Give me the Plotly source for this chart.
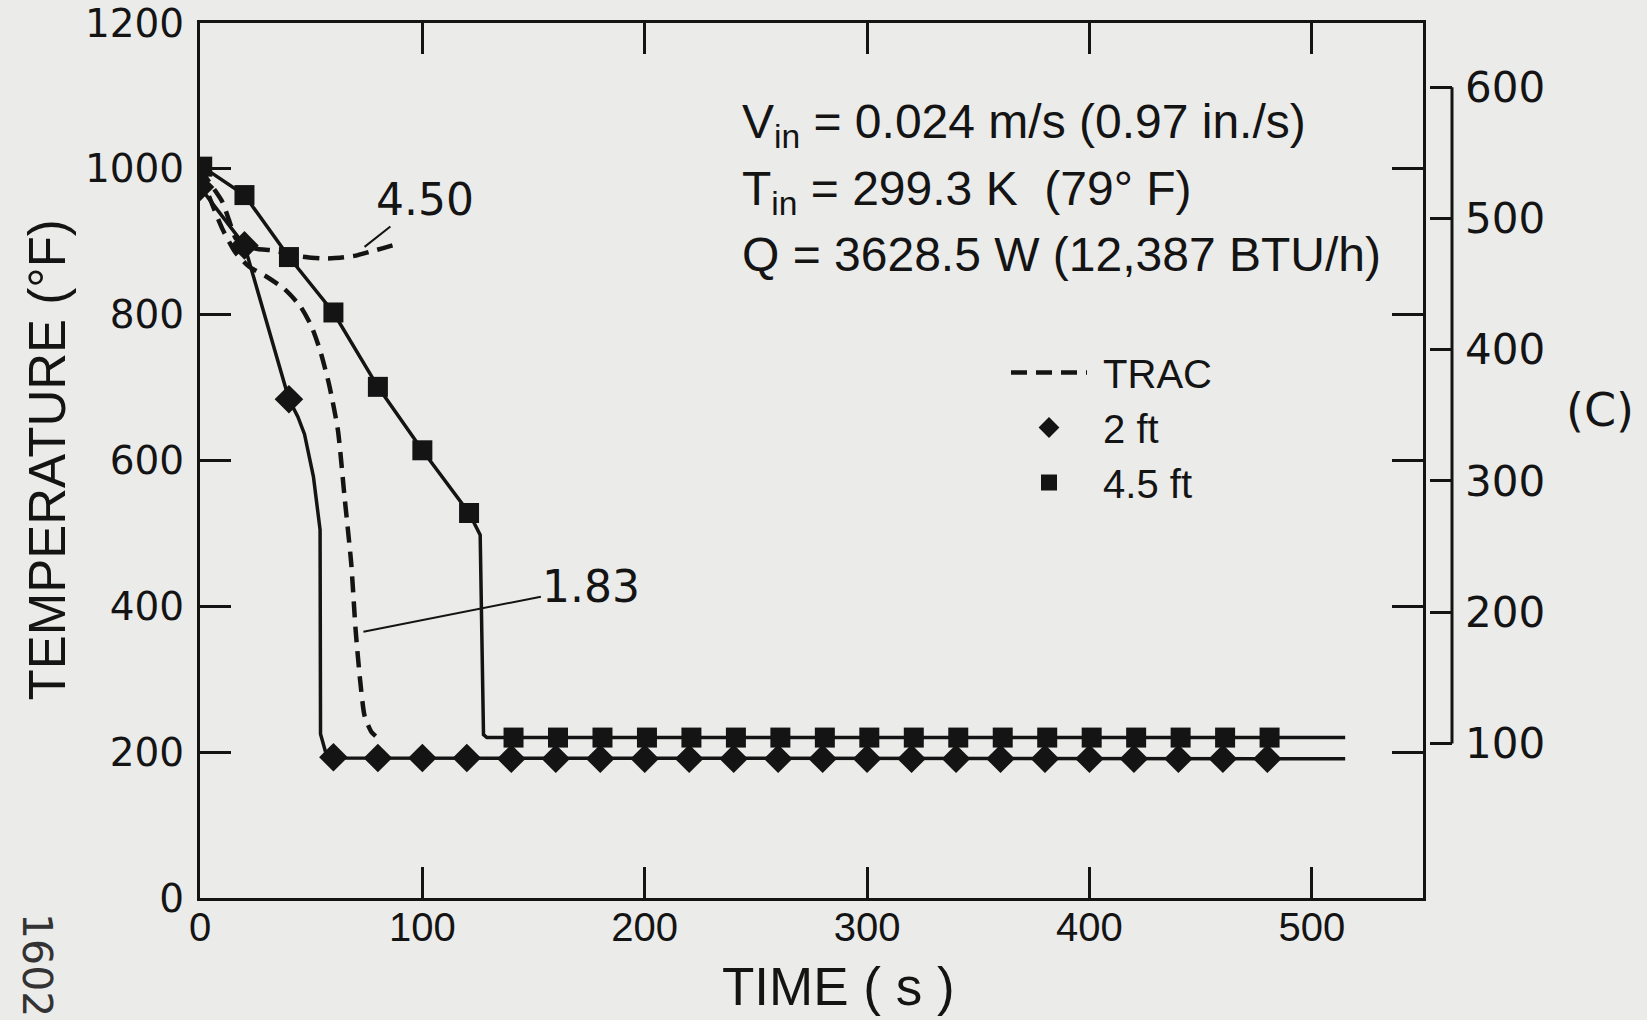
import plotly.graph_objects as go

# ---------------- data ----------------
# TRAC predictions (dashed)
trac_183_t = [0, 5, 10, 16, 22, 30, 38, 45, 50, 54, 58, 62, 65, 68, 70, 72, 74, 77, 79]
trac_183_T = [995, 955, 918, 885, 866, 852, 835, 812, 785, 751, 705, 642, 550, 459, 367, 299, 250, 228, 222]
trac_450_t = [0, 5, 10, 13, 16, 20, 26, 33, 45, 55, 63, 70, 76, 82, 89]
trac_450_T = [1000, 978, 955, 930, 905, 895, 890, 888, 880, 877, 878, 881, 886, 891, 897]

# measured curves (solid lines)
ft2_line_t = [0, 20, 40, 44, 47, 51, 54, 54.2, 56.5, 60, 515]
ft2_line_T = [975, 895, 684, 660, 636, 578, 505, 225, 200, 192, 191]
ft45_line_t = [1, 20, 40, 60, 80, 100, 121, 126, 127.5, 129, 141, 515]
ft45_line_T = [1003, 964, 879, 803, 701, 614, 528, 498, 224, 220, 220, 220]

# measured points (markers)
ft2_marker_t = [0, 20, 40, 60, 80, 100, 120, 140, 160, 180, 200, 220, 240, 260, 280,
                300, 320, 340, 360, 380, 400, 420, 440, 460, 480]
ft2_marker_T = [975, 895, 684, 193, 192, 192, 192, 191, 191, 191, 191, 191, 191, 191, 191,
                191, 191, 191, 191, 191, 191, 191, 191, 191, 191]
ft45_marker_t = [1, 20, 40, 60, 80, 100, 121, 141, 161, 181, 201, 221, 241, 261, 281,
                 301, 321, 341, 361, 381, 401, 421, 441, 461, 481]
ft45_marker_T = [1003, 964, 879, 803, 701, 614, 528, 220, 220, 220, 220, 220, 220, 220, 220,
                 220, 220, 220, 220, 220, 220, 220, 220, 220, 220]

# axes
x_range = [0, 550]
x_ticks = [0, 100, 200, 300, 400, 500]
y_range = [0, 1200]
y_ticks = [0, 200, 400, 600, 800, 1000, 1200]
c_ticks = [100, 200, 300, 400, 500, 600]

# ---------------- styling ----------------
INK = "#141414"
BG = "#ebebea"
GEO = "DejaVu Sans"
SANS = "Liberation Sans"
NARROW = "Liberation Sans Narrow, Liberation Sans"
NB = "\u00a0"

W, H = 1647, 1020
ML, MR, MT, MB = 200, 20, 23, 122
plot_w = W - ML - MR
plot_h = H - MT - MB
x_dom_right = (1423 - ML) / plot_w
bracket_x = (1452 - ML) / plot_w


def px_x(px):
    return (px - ML) / plot_w


def px_y(py):
    return (H - MB - py) / plot_h


fig = go.Figure()

dash_line = dict(color=INK, width=4.5, dash="16px,9px", shape="spline", smoothing=0.6)
fig.add_trace(go.Scatter(x=trac_183_t, y=trac_183_T, mode="lines", name=NB + "TRAC",
                         line=dash_line, showlegend=True))
fig.add_trace(go.Scatter(x=trac_450_t, y=trac_450_T, mode="lines", name="TRAC 4.50",
                         line=dash_line, showlegend=False))
fig.add_trace(go.Scatter(x=ft2_line_t, y=ft2_line_T, mode="lines", name="2 ft line",
                         line=dict(color=INK, width=3.5), showlegend=False))
fig.add_trace(go.Scatter(x=ft45_line_t, y=ft45_line_T, mode="lines", name="4.5 ft line",
                         line=dict(color=INK, width=3.5), showlegend=False))
fig.add_trace(go.Scatter(x=ft2_marker_t, y=ft2_marker_T, mode="markers", name=NB + "2 ft",
                         marker=dict(symbol="diamond", size=22, color=INK)))
fig.add_trace(go.Scatter(x=ft45_marker_t, y=ft45_marker_T, mode="markers", name=NB + "4.5 ft",
                         marker=dict(symbol="square", size=20, color=INK)))

# Celsius axis on the right (bracket)
c_lo = (y_range[0] - 32) * 5 / 9
c_hi = (y_range[1] - 32) * 5 / 9
fig.add_trace(go.Scatter(x=[None], y=[None], yaxis="y2", showlegend=False, hoverinfo="skip"))

fig.update_layout(
    template="none",
    width=W, height=H,
    margin=dict(l=ML, r=MR, t=MT, b=MB, pad=0, autoexpand=False),
    paper_bgcolor=BG, plot_bgcolor=BG,
    font=dict(family=SANS, color=INK),
    showlegend=True,
    legend=dict(x=px_x(1006), y=px_y(340), xanchor="left", yanchor="top",
                bgcolor="rgba(0,0,0,0)", borderwidth=0,
                font=dict(family=SANS, size=40, color=INK),
                itemwidth=76, tracegroupgap=0, traceorder="normal"),
    xaxis=dict(domain=[0, x_dom_right], range=x_range, tickvals=x_ticks,
               ticktext=[str(v) for v in x_ticks], automargin=False,
               ticks="inside", ticklen=31, tickwidth=2.5, tickcolor=INK,
               showline=True, linewidth=3, linecolor=INK, mirror="ticks",
               showgrid=False, zeroline=False,
               tickfont=dict(family=NARROW, size=40, color=INK), ticklabelstandoff=-8),
    yaxis=dict(range=y_range, tickvals=y_ticks, automargin=False,
               ticks="inside", ticklen=31, tickwidth=2.5, tickcolor=INK,
               showline=True, linewidth=3, linecolor=INK, mirror="ticks",
               showgrid=False, zeroline=False,
               tickfont=dict(family=GEO, size=39, color=INK), ticklabelstandoff=5),
    yaxis2=dict(range=[c_lo, c_hi], tickvals=c_ticks, overlaying="y", side="right",
                anchor="free", position=bracket_x, automargin=False,
                ticks="inside", ticklen=22, tickwidth=2.5, tickcolor=INK,
                showline=False, showgrid=False, zeroline=False,
                tickfont=dict(family=GEO, size=42, color=INK), ticklabelstandoff=12),
)

# bracket line of the Celsius scale
fig.add_shape(type="line", xref="paper", yref="y2", x0=bracket_x, x1=bracket_x,
              y0=c_ticks[0], y1=c_ticks[-1], line=dict(color=INK, width=3))

ann_font = dict(family=SANS, size=48, color=INK)
fig.add_annotation(x=243, y=1060, xref="x", yref="y", xanchor="left", yanchor="middle",
                   text="V<sub>in</sub> = 0.024 m/s (0.97 in./s)", showarrow=False, font=ann_font)
fig.add_annotation(x=243, y=968, xref="x", yref="y", xanchor="left", yanchor="middle",
                   text="T<sub>in</sub> = 299.3 K  (79° F)", showarrow=False, font=ann_font)
fig.add_annotation(x=243, y=882, xref="x", yref="y", xanchor="left", yanchor="middle",
                   text="Q = 3628.5 W (12,387 BTU/h)", showarrow=False, font=ann_font)

# curve labels with leader lines
fig.add_annotation(x=74, y=893, xref="x", yref="y", ax=101, ay=958, axref="x", ayref="y",
                   xanchor="center", yanchor="middle",
                   text="4.50", showarrow=True, arrowhead=0, arrowwidth=2, arrowcolor=INK,
                   font=dict(family=GEO, size=44, color=INK))
fig.add_annotation(x=73.5, y=365, xref="x", yref="y", ax=176, ay=427, axref="x", ayref="y",
                   xanchor="center", yanchor="middle",
                   text="1.83", showarrow=True, arrowhead=0, arrowwidth=2, arrowcolor=INK,
                   font=dict(family=GEO, size=44, color=INK))

# axis titles and other text
fig.add_annotation(x=px_x(47), y=0.5, xref="paper", yref="paper", xanchor="center", yanchor="middle",
                   text="TEMPERATURE (°F)", textangle=-90, showarrow=False,
                   font=dict(family=SANS, size=51, color=INK))
fig.add_annotation(x=px_x(838), y=px_y(987), xref="paper", yref="paper",
                   xanchor="center", yanchor="middle",
                   text="TIME ( s )", showarrow=False, font=dict(family=NARROW, size=53, color=INK))
fig.add_annotation(x=px_x(1600), y=px_y(410), xref="paper", yref="paper",
                   xanchor="center", yanchor="middle",
                   text="(C)", showarrow=False, font=dict(family=GEO, size=46, color=INK))
fig.add_annotation(x=px_x(37), y=px_y(965), xref="paper", yref="paper",
                   xanchor="center", yanchor="middle",
                   text="1602", textangle=90, showarrow=False,
                   font=dict(family=GEO, size=41, color="#333333"))

fig.write_html("out.html",
               config={"displayModeBar": False},
               post_script="document.body.style.margin='0px';"
                           "document.body.style.background='" + BG + "';")
